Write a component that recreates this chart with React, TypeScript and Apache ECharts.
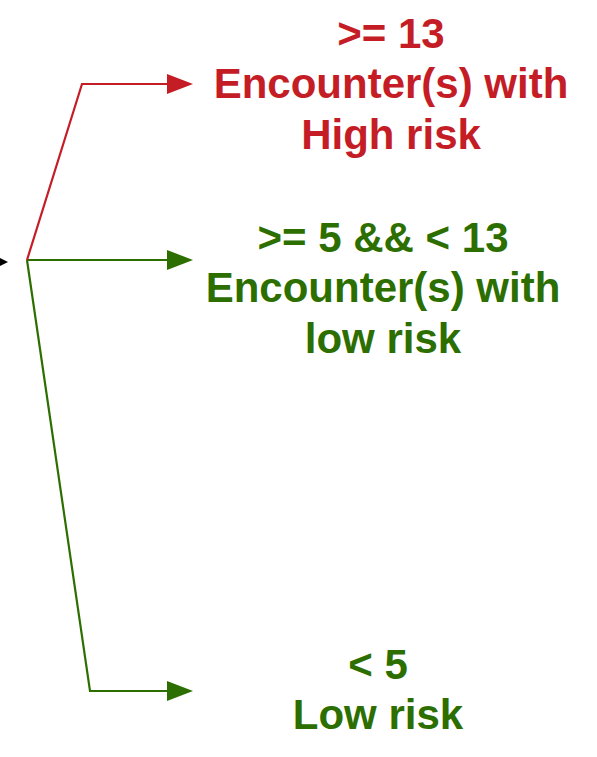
import React, { useEffect, useRef } from "react";
import * as echarts from "echarts";

// Diagram content
const thresholds: string[] = [">= 13", ">= 5 && < 13", "< 5"];
const outcomeLines: string[][] = [
  ["Encounter(s) with", "High risk"],
  ["Encounter(s) with", "low risk"],
  ["Low risk"],
];
const branchColors: string[] = ["#C41D26", "#2C6F00", "#2C6F00"];

// Layout (pixels)
const origin = [27, 260];
const elbows = [
  [82, 84],
  [27, 260],
  [90, 691],
];
const arrowTipX = 193;
const arrowLen = 26;
const arrowHalf = 10;
const labelCenters = [391, 383, 378];
const labelFirstCenterY = [33, 237, 664];
const lineGap = 50.5;
const fontSize = 42;

export default function App() {
  const ref = useRef<HTMLDivElement>(null);
  useEffect(() => {
    if (!ref.current) return;
    const chart = echarts.init(ref.current, null, { renderer: "svg" });
    const elements: any[] = [];
    // incoming black arrow head
    elements.push({
      type: "polygon",
      shape: { points: [[-3, 256.5], [8, 262], [-3, 267.5]] },
      style: { fill: "#000" },
    });
    thresholds.forEach((t, i) => {
      const color = branchColors[i];
      const [ex, ey] = elbows[i];
      elements.push({
        type: "polyline",
        shape: {
          points: [origin, [ex, ey], [arrowTipX - arrowLen + 2, ey]],
        },
        style: { stroke: color, lineWidth: 2.2, fill: "none" },
        z: i === 0 ? 3 : 2,
      });
      elements.push({
        type: "polygon",
        shape: {
          points: [
            [arrowTipX - arrowLen, ey - arrowHalf],
            [arrowTipX, ey],
            [arrowTipX - arrowLen, ey + arrowHalf],
          ],
        },
        style: { fill: color },
      });
      const lines = [t, ...outcomeLines[i]];
      lines.forEach((ln, j) => {
        elements.push({
          type: "text",
          x: labelCenters[i],
          y: labelFirstCenterY[i] + j * lineGap,
          style: {
            text: ln,
            fill: color,
            fontSize,
            fontWeight: "bold",
            fontFamily: "'Liberation Sans', Arial, Helvetica, sans-serif",
            align: "center",
            verticalAlign: "middle",
          },
        });
      });
    });
    chart.setOption({
      animation: false,
      backgroundColor: "#ffffff",
      graphic: { elements },
    });
    return () => chart.dispose();
  }, []);
  return (
    <div
      ref={ref}
      style={{ position: "fixed", left: 0, top: 0, width: 597, height: 757 }}
    />
  );
}
